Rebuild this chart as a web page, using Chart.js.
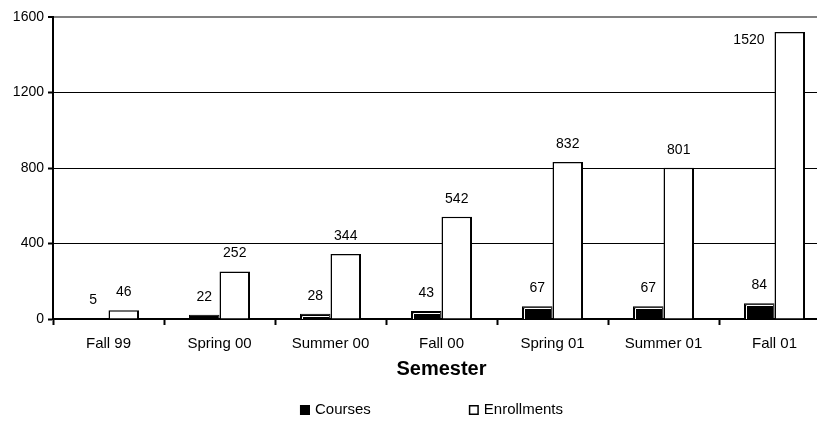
<!DOCTYPE html>
<html>
<head>
<meta charset="utf-8">
<script src="https://cdn.jsdelivr.net/npm/chart.js@4.4.1/dist/chart.umd.min.js"></script>
<style>
  html, body { margin: 0; padding: 0; background: #fff; overflow: hidden; }
  #wrap { width: 830px; height: 421px; position: relative; }
</style>
</head>
<body>
<div id="wrap"><canvas id="chart"></canvas></div>
<script>
const semesters = ['Fall 99', 'Spring 00', 'Summer 00', 'Fall 00', 'Spring 01', 'Summer 01', 'Fall 01']
const courses = [5, 22, 28, 43, 67, 67, 84]
const enrollments = [46, 252, 344, 542, 832, 801, 1520]
const yTicks = [0, 400, 800, 1200, 1600]

const FONT = '"Liberation Sans", Arial, sans-serif'

// value labels above each bar; if there is no room above, put it beside the bar
const valueLabels = {
  id: 'valueLabels',
  afterDatasetsDraw(chart) {
    const ctx = chart.ctx
    const top = chart.chartArea.top
    ctx.save()
    ctx.font = '14px ' + FONT
    ctx.fillStyle = '#000'
    ctx.textBaseline = 'middle'
    chart.data.datasets.forEach((ds, i) => {
      chart.getDatasetMeta(i).data.forEach((bar, j) => {
        const txt = String(ds.data[j])
        if (bar.y - 18 < top + 10) {
          ctx.textAlign = 'right'
          ctx.fillText(txt, bar.x - bar.width / 2 - 10, bar.y + 8)
        } else {
          ctx.textAlign = 'center'
          ctx.fillText(txt, bar.x, bar.y - 18)
        }
      })
    })
    ctx.restore()
  }
}

// white inner edge on the dark bars (old office look)
const bevel = {
  id: 'bevel',
  afterDatasetsDraw(chart) {
    const ctx = chart.ctx
    ctx.save()
    ctx.strokeStyle = '#fff'
    ctx.lineWidth = 1
    chart.getDatasetMeta(0).data.forEach(bar => {
      const l = Math.round(bar.x - bar.width / 2) + 2.5
      const r = Math.round(bar.x + bar.width / 2) - 2
      const t = Math.round(bar.y) + 2.5
      const b = Math.round(bar.base)
      if (b - t < 2) return
      ctx.beginPath()
      ctx.moveTo(l, b)
      ctx.lineTo(l, t)
      ctx.lineTo(r, t)
      ctx.stroke()
    })
    ctx.restore()
  }
}

// legend spread wide under the chart
const wideLegend = {
  id: 'wideLegend',
  afterDraw(chart) {
    const ctx = chart.ctx
    const area = chart.chartArea
    ctx.save()
    ctx.font = '15px ' + FONT
    ctx.textBaseline = 'middle'
    const box = 10, gap = 5, spacing = 98
    const items = chart.data.datasets.map(ds => ({ ds, w: box + gap + ctx.measureText(ds.label).width }))
    const total = items.reduce((s, it) => s + it.w, 0) + spacing * (items.length - 1)
    let x = (area.left + area.right) / 2 - 10 - total / 2
    const y = 410
    items.forEach(it => {
      ctx.fillStyle = it.ds.backgroundColor
      ctx.fillRect(x, y - box / 2, box, box)
      ctx.strokeStyle = '#000'
      ctx.lineWidth = 1.5
      ctx.strokeRect(x + 0.75, y - box / 2 + 0.75, box - 1.5, box - 1.5)
      ctx.fillStyle = '#000'
      ctx.fillText(it.ds.label, x + box + gap, y)
      x += it.w + spacing
    })
    ctx.restore()
  }
}

new Chart(document.getElementById('chart'), {
  type: 'bar',
  data: {
    labels: semesters,
    datasets: [
      {
        label: 'Courses',
        data: courses,
        backgroundColor: '#000',
        borderColor: '#000',
        borderWidth: 1,
        borderSkipped: 'bottom'
      },
      {
        label: 'Enrollments',
        data: enrollments,
        backgroundColor: '#fff',
        borderColor: '#000',
        borderWidth: { top: 1.5, left: 1.5, right: 2, bottom: 0 },
        borderSkipped: 'bottom'
      }
    ]
  },
  options: {
    responsive: true,
    maintainAspectRatio: false,
    animation: false,
    categoryPercentage: 0.55,
    barPercentage: 1,
    layout: { padding: { top: 17, bottom: 40, left: 0, right: 0 } },
    plugins: {
      legend: { display: false },
      tooltip: { enabled: false }
    },
    scales: {
      x: {
        grid: {
          offset: true,
          drawOnChartArea: false,
          drawTicks: true,
          tickLength: 6,
          tickColor: '#000',
          tickWidth: 2
        },
        border: { color: '#000', width: 2 },
        ticks: { color: '#000', font: { family: FONT, size: 15 }, padding: 10, maxRotation: 0 },
        title: {
          display: true,
          text: 'Semester',
          color: '#000',
          font: { family: FONT, size: 20, weight: 'bold' },
          padding: { top: 0, bottom: 0 }
        },
        afterFit(scale) { scale.height = 62 }
      },
      y: {
        min: yTicks[0],
        max: yTicks[yTicks.length - 1],
        afterBuildTicks(scale) { scale.ticks = yTicks.map(v => ({ value: v })) },
        grid: {
          color: ctx => ctx.tick && ctx.tick.value === 1600 ? '#808080' : '#000',
          lineWidth: ctx => ctx.tick && ctx.tick.value === 1600 ? 2 : 1,
          tickLength: 5,
          tickColor: '#000',
          tickWidth: 2
        },
        border: { color: '#000', width: 2 },
        ticks: {
          color: '#000',
          font: { family: FONT, size: 14 },
          padding: 4,
          callback: v => String(v)
        },
        afterFit(scale) { scale.width = 53 }
      }
    }
  },
  plugins: [valueLabels, bevel, wideLegend]
})
</script>
</body>
</html>
